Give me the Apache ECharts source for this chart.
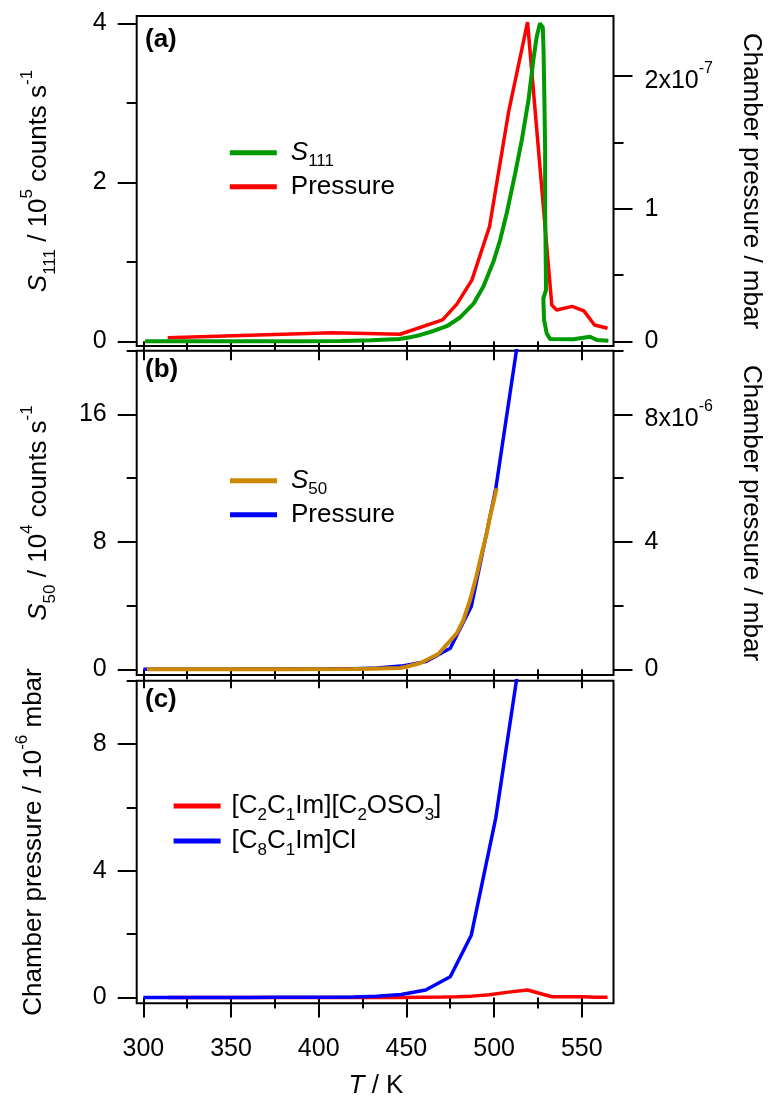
<!DOCTYPE html>
<html><head><meta charset="utf-8">
<script src="https://cdn.jsdelivr.net/npm/echarts@6/dist/echarts.min.js"></script>
<style>html,body{margin:0;padding:0;background:#fff}#c{width:768px;height:1099px}</style>
</head><body><div id="c"></div><script>
// ---------- data ----------
// Panel (a): S111 signal (10^5 counts/s) vs T (K)
const tempS111 = [301, 330, 360, 390, 413, 430, 446, 452, 458, 465.5, 473, 480.6, 488.2, 493.9, 499.6, 503.4, 507.2, 512, 515.8, 519.6, 522.4, 524.3, 526.2, 527.8, 528.2, 528.7, 529.1, 529.1, 529.5, 529.6, 528.1, 528.5, 530, 531.9, 545.2, 554.7, 558.6, 565.2];
const valS111  = [0, 0, 0, 0, 0.005, 0.012, 0.03, 0.05, 0.08, 0.13, 0.19, 0.30, 0.47, 0.69, 1.00, 1.27, 1.61, 2.11, 2.53, 3.03, 3.54, 3.83, 4.0, 3.95, 3.66, 3.03, 2.40, 1.69, 0.94, 0.645, 0.54, 0.27, 0.10, 0.03, 0.025, 0.058, 0.016, 0.008];
// [C2C1Im][C2OSO3] chamber pressure (10^-6 mbar) vs T (K)
const tempPressC2 = [313.9, 407.9, 446.4, 470.6, 478.9, 487.4, 497.4, 508.2, 519.1, 532.9, 535.7, 544.5, 551.2, 557.3, 564.7];
const pressC2     = [0.0027, 0.0065, 0.0053, 0.0161, 0.0282, 0.0463, 0.0865, 0.1723, 0.2405, 0.0274, 0.0236, 0.0263, 0.0229, 0.0123, 0.0098];
// Panel (b): S50 signal (10^4 counts/s) vs T (K)
const tempS50 = [302, 340, 380, 420, 430, 446.4, 449.8, 457.8, 468.2, 478.7, 482.5, 486.3, 490.1, 493, 495.8, 497.7, 501.5];
const valS50  = [0, 0, 0, 0.02, 0.03, 0.08, 0.16, 0.38, 0.96, 2.26, 3.09, 4.35, 5.92, 7.28, 8.54, 9.58, 11.36];
// [C8C1Im]Cl chamber pressure (10^-6 mbar) vs T (K)
const tempPressC8 = [300, 315, 330, 345, 360, 375, 390, 405, 420, 433, 447, 461, 475, 487, 501, 513];
const pressC8     = [0, 0, 0.003, 0.004, 0.006, 0.008, 0.01, 0.014, 0.02, 0.04, 0.1, 0.24, 0.66, 1.97, 5.68, 10.1];
// ticks
const xMajorTicks = [300, 350, 400, 450, 500, 550];
const xMinorTicks = [325, 375, 425, 475, 525];
const aLeftMajor = [0, 2, 4], aLeftMinor = [1, 3];
const aRightMajor = [0, 0.1, 0.2], aRightMinor = [0.05, 0.15];
const bLeftMajor = [0, 8, 16], bLeftMinor = [4, 12, 20];
const bRightMajor = [0, 4, 8], bRightMinor = [2, 6, 10];
const cLeftMajor = [0, 4, 8], cLeftMinor = [2, 6, 10];

// ---------- chart ----------
const FONT = '"Liberation Sans", Arial, sans-serif';
const X_MIN = 296.2, X_MAX = 568.1;
const zip = (xs, ys) => xs.map((x, i) => [x, ys[i]]);
const tickStyle = {color: '#000', width: 2};

function xAx(grid, ticks, len, showLabel) {
  return {type: 'value', gridIndex: grid, position: 'bottom', offset: 0, min: X_MIN, max: X_MAX,
    axisLine: {show: false}, splitLine: {show: false},
    axisTick: {show: true, length: len, customValues: ticks, lineStyle: tickStyle},
    axisLabel: {show: showLabel, customValues: ticks, margin: 33, fontSize: 25, color: '#000', fontFamily: FONT}};
}
function yAx(grid, pos, min, max, ticks, len, showLabel, formatter) {
  const a = {type: 'value', gridIndex: grid, position: pos, offset: 0, min: min, max: max,
    axisLine: {show: false}, splitLine: {show: false},
    axisTick: {show: true, length: len, customValues: ticks, lineStyle: tickStyle},
    axisLabel: {show: showLabel, customValues: ticks, margin: pos === 'left' ? 30 : 31, fontSize: 25, color: '#000', fontFamily: FONT,
      rich: {n: {fontSize: 25, lineHeight: 31, padding: [10, 0, 0, 0], fontFamily: FONT, color: '#000'},
             sup: {fontSize: 16, lineHeight: 16, verticalAlign: 'top', fontFamily: FONT, color: '#000'}}}};
  if (formatter) a.axisLabel.formatter = formatter;
  return a;
}
const near = (a, b) => Math.abs(a - b) < 1e-9;

const gridBase = {left: 136.7, width: 476.8, show: true, borderColor: '#000', borderWidth: 2, backgroundColor: 'transparent'};

const legendNames = {
  'S111': '{i|S}{sub|111}', 'Pressure (a)': 'Pressure',
  'S50': '{i|S}{sub|50}', 'Pressure (b)': 'Pressure',
  'C2': '[C{sub|2}C{sub|1}Im][C{sub|2}OSO{sub|3}]', 'C8': '[C{sub|8}C{sub|1}Im]Cl'
};
function legendOf(names, left, top, lh, pad) {
  return {data: names, orient: 'vertical', left: left, top: top, padding: 0, itemGap: 0,
    itemWidth: 47, itemHeight: 5, icon: 'rect', selectedMode: false,
    formatter: n => legendNames[n],
    textStyle: {fontSize: 26, lineHeight: lh, color: '#000', fontFamily: FONT, padding: [0, 0, 0, pad],
      rich: {i: {fontStyle: 'italic', fontSize: 26, lineHeight: lh, fontFamily: FONT, color: '#000'},
             sub: {fontSize: 17, lineHeight: 17, verticalAlign: 'bottom', fontFamily: FONT, color: '#000'}}}};
}

const titleRich = {
  n: {fontSize: 26, lineHeight: 40, fontFamily: FONT, fill: '#000'},
  i: {fontSize: 26, lineHeight: 40, fontStyle: 'italic', fontFamily: FONT, fill: '#000'},
  sup: {fontSize: 17, lineHeight: 17, verticalAlign: 'top', fontFamily: FONT, fill: '#000'},
  sub: {fontSize: 17, lineHeight: 17, verticalAlign: 'bottom', fontFamily: FONT, fill: '#000'}
};
function tText(x, y, rot, text) {
  return {type: 'text', x: x, y: y, rotation: rot, silent: true,
    style: {text: text, rich: titleRich, fontSize: 26, fontFamily: FONT, fill: '#000', align: 'center', verticalAlign: 'middle'}};
}
function panelLabel(x, y, t) {
  return {type: 'text', x: x, y: y, silent: true,
    style: {text: t, fontSize: 26, fontWeight: 'bold', fontFamily: FONT, fill: '#000', align: 'left', verticalAlign: 'middle'}};
}

const option = {
  animation: false,
  backgroundColor: '#fff',
  grid: [
    Object.assign({top: 16, height: 330}, gridBase),
    Object.assign({top: 350.7, height: 324.3}, gridBase),
    Object.assign({top: 680.7, height: 322.6}, gridBase)
  ],
  xAxis: [
    xAx(0, xMajorTicks, 19, false), xAx(0, xMinorTicks, 10, false),
    xAx(1, xMajorTicks, 19, false), xAx(1, xMinorTicks, 10, false),
    xAx(2, xMajorTicks, 20, true),  xAx(2, xMinorTicks, 11, false)
  ],
  yAxis: [
    yAx(0, 'left', -0.059, 4.092, aLeftMajor, 19, true),
    yAx(0, 'left', -0.059, 4.092, aLeftMinor, 10, false),
    yAx(0, 'right', -0.00354, 0.2452, aRightMajor, 19, true,
        v => near(v, 0.2) ? '{n|2x10}{sup|-7}' : (near(v, 0.1) ? '1' : '0')),
    yAx(0, 'right', -0.00354, 0.2452, aRightMinor, 10, false),
    yAx(1, 'left', -0.358, 20, bLeftMajor, 19, true),
    yAx(1, 'left', -0.358, 20, bLeftMinor, 10, false),
    yAx(1, 'right', -0.179, 10, bRightMajor, 19, true,
        v => near(v, 8) ? '{n|8x10}{sup|-6}' : String(v)),
    yAx(1, 'right', -0.179, 10, bRightMinor, 10, false),
    yAx(2, 'left', -0.18, 10, cLeftMajor, 19, true),
    yAx(2, 'left', -0.18, 10, cLeftMinor, 10, false)
  ],
  legend: [
    legendOf(['S111', 'Pressure (a)'], 229.8, 135.7, 34, 9),
    legendOf(['S50', 'Pressure (b)'], 230, 463.7, 34, 9),
    legendOf(['C2', 'C8'], 173.6, 788.5, 35, 6)
  ],
  series: [
    {name: 'Pressure (a)', type: 'line', xAxisIndex: 0, yAxisIndex: 2, data: zip(tempPressC2, pressC2),
     symbol: 'none', color: '#ff0000', lineStyle: {color: '#ff0000', width: 3.5}, clip: true, silent: true},
    {name: 'S111', type: 'line', xAxisIndex: 0, yAxisIndex: 0, data: zip(tempS111, valS111),
     symbol: 'none', color: '#009900', lineStyle: {color: '#009900', width: 4}, clip: true, silent: true},
    {name: 'Pressure (b)', type: 'line', xAxisIndex: 2, yAxisIndex: 6, data: zip(tempPressC8, pressC8),
     symbol: 'none', color: '#0000ff', lineStyle: {color: '#0000ff', width: 3.5}, clip: true, silent: true},
    {name: 'S50', type: 'line', xAxisIndex: 2, yAxisIndex: 4, data: zip(tempS50, valS50),
     symbol: 'none', color: '#cc8800', lineStyle: {color: '#cc8800', width: 4}, clip: true, silent: true},
    {name: 'C2', type: 'line', xAxisIndex: 4, yAxisIndex: 8, data: zip(tempPressC2, pressC2),
     symbol: 'none', color: '#ff0000', lineStyle: {color: '#ff0000', width: 3.5}, clip: true, silent: true},
    {name: 'C8', type: 'line', xAxisIndex: 4, yAxisIndex: 8, data: zip(tempPressC8, pressC8),
     symbol: 'none', color: '#0000ff', lineStyle: {color: '#0000ff', width: 3.5}, clip: true, silent: true}
  ],
  graphic: [
    tText(39, 181, Math.PI / 2, '{i|S}{sub|111}{n| / 10}{sup|5}{n| counts s}{sup|-1}'),
    tText(39, 513, Math.PI / 2, '{i|S}{sub|50}{n| / 10}{sup|4}{n| counts s}{sup|-1}'),
    tText(34, 842, Math.PI / 2, '{n|Chamber pressure / 10}{sup|-6}{n| mbar}'),
    tText(751, 181, -Math.PI / 2, '{n|Chamber pressure / mbar}'),
    tText(751, 513, -Math.PI / 2, '{n|Chamber pressure / mbar}'),
    tText(376, 1086, 0, '{i|T}{n| / K}'),
    panelLabel(145, 40, '(a)'),
    panelLabel(145, 370, '(b)'),
    panelLabel(145, 700, '(c)')
  ]
};
const chart = echarts.init(document.getElementById('c'), null, {renderer: 'canvas'});
chart.setOption(option);
</script></body></html>
